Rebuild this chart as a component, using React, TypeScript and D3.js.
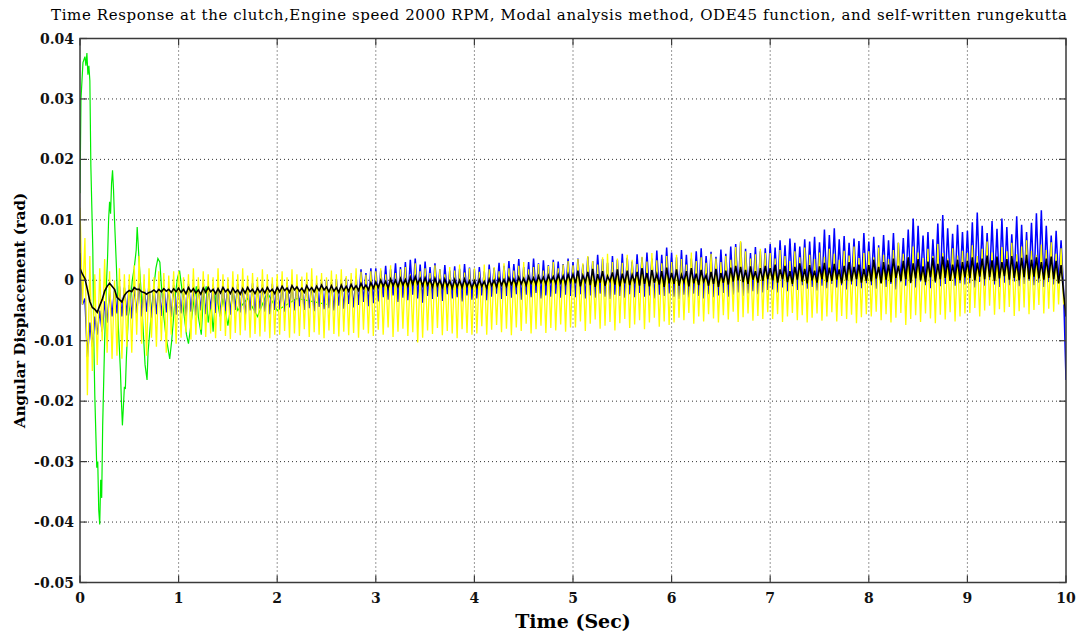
import React from 'react';
import * as d3 from 'd3';

const W = 1077;
const H = 635;
const M = { left: 80, top: 38.5, right: 1066, bottom: 582.5 };

const titleText = 'Time Response at the clutch,Engine speed 2000 RPM, Modal analysis method, ODE45 function, and self-written rungekutta';
const xLabel = 'Time (Sec)';
const yLabel = 'Angular Displacement (rad)';

const xTicks = [0, 1, 2, 3, 4, 5, 6, 7, 8, 9, 10];
const yTicks = [-0.05, -0.04, -0.03, -0.02, -0.01, 0, 0.01, 0.02, 0.03, 0.04];
const yTickLabels = ['-0.05', '-0.04', '-0.03', '-0.02', '-0.01', '0', '0.01', '0.02', '0.03', '0.04'];

// per-cycle samples (mrad): peak at t = i*0.05 s, trough at t = i*0.05 + 0.025 s
const STEP = 0.05;

const yellowHi = [
  12, 7, 4, 1, 2, 3.5, 1.5, 0, 2, 1, 1, 2.5, 4, 1, 2, 0.5, 1.5, 1.2, 0.8, 1.5,
  1.5, 0.5, 1, 2, 0.5, 1.5, 1, 0.5, 2, 1, 0.5, 1.5, 1, 2, 0.8, 1.2, 0.5, 1.8, 1, 0.5,
  1, 1.5, 0.5, 1.8, 1, 0.6, 1.3, 2, 0.8, 1.2, 0.5, 1.6, 1, 1.8, 0.7, 1.2, 2, 1.4, 0.9, 1.5,
  1.5, 2, 1, 2.5, 1.2, 1.8, 2.2, 1, 2.8, 1.5, 2, 1.2, 2.5, 1.8, 1, 2.2, 1.6, 2.6, 1.3, 2,
  2, 1.4, 2.6, 1.8, 2.2, 1.5, 2.8, 2, 1.6, 2.4, 3, 1.8, 2.2, 2.7, 1.6, 2.4, 3, 2, 2.6, 3.2,
  2.5, 3.5, 2.8, 4, 3.2, 2.6, 3.8, 4.4, 3, 3.6, 2.9, 4.2, 3.4, 2.7, 3.9, 3.1, 4.5, 3.3, 2.8, 4,
  3, 4.2, 3.5, 2.6, 4.6, 3.2, 3.8, 2.9, 4.4, 3.6, 3, 4, 3.4, 5.5, 6.5, 4.8, 3.6, 4.3, 5.2, 4.5,
  4.5, 3.6, 5, 4, 3.2, 4.8, 3.8, 5.4, 4.2, 3.5, 4.6, 3.9, 5.2, 4.4, 3.4, 4.9, 4.1, 5.6, 3.7, 4.5,
  4.8, 3.8, 5.4, 4.2, 3.5, 5, 6.2, 4.4, 3.9, 5.6, 4.6, 3.7, 5.2, 4, 6, 4.5, 3.6, 5.3, 4.1, 4.9,
  4.5, 5.8, 4, 5.2, 6.4, 4.6, 3.9, 5.5, 4.8, 6.2, 4.3, 5.6, 6.6, 4.9, 4.2, 5.9, 5, 6.3, 4.4, 5.3,
];
const yellowLo = [
  -4, -19, -15, -14, -10, -12, -13, -12.5, -13, -11, -12, -9, -10.5, -12.5, -9.5, -11, -10, -12, -9, -10.5,
  -9.5, -8.6, -9.8, -9, -8.2, -9.4, -8.8, -9.6, -8.4, -9.2, -9.7, -8.7, -9.1, -8.3, -9.5, -8.9, -9.3, -8.5, -9.6, -9,
  -9, -8.4, -9.5, -8.8, -9.2, -8.1, -9.4, -8.6, -9, -9.6, -8.3, -8.9, -9.3, -8.5, -9.1, -8.7, -9.5, -8.2, -8.8, -9.2,
  -8.2, -9, -7.8, -9.4, -8.5, -8, -9.2, -8.6, -10.3, -9.5, -8.3, -8.9, -7.9, -9.1, -8.4, -8.8, -9.6, -8.1, -8.7, -9,
  -8.8, -7.6, -9, -8.2, -7.4, -8.6, -8, -9.1, -7.8, -8.4, -7.2, -8.8, -8.1, -7.5, -8.7, -7.9, -8.3, -7.3, -8.5, -7.8,
  -7.8, -6.8, -8.4, -7.2, -6.5, -8, -7.5, -6.9, -8.3, -7.1, -6.4, -7.9, -7.3, -6.6, -8.1, -7, -6.2, -7.7, -6.8, -7.4,
  -7, -6.2, -6.6, -5.4, -7.2, -6, -6.8, -5.6, -6.3, -7, -5.8, -6.5, -5.2, -6.9, -6.1, -5.5, -6.7, -5.9, -6.4, -5.3,
  -6.4, -5.6, -6.9, -6, -5.4, -6.6, -5.8, -7, -6.2, -5.5, -6.7, -6, -5.3, -6.8, -5.9, -6.4, -5.7, -7.1, -6.1, -5.6,
  -6, -5.2, -6.6, -5.6, -7, -6.2, -5.4, -7.4, -6.4, -5.8, -6.9, -5.5, -6.3, -7.1, -5.7, -6.5, -5.3, -6.8, -6, -5.5,
  -5.4, -4.6, -6, -5, -4.2, -5.7, -4.8, -5.3, -4.4, -5.9, -5.1, -4.5, -5.6, -4.9, -4.1, -5.5, -4.7, -5.2, -4, -3.8,
];
const yellowEnd = -4.5;

const blueHi = [
  4.5, -3, -7, -6, -5, -3.5, -2, -1.5, -1, -1.2, -0.8, -1, -0.5, -1, -0.7, -1.2, -0.6, -0.9, -1.1, -0.8,
  -0.8, -1.2, -0.6, -1, -0.9, -0.5, -1.1, -0.7, -1, -0.4, -0.9, -1.2, -0.6, -0.8, -1, -0.5, -0.9, -0.7, -1.1, -0.6,
  -0.6, -0.9, -0.4, -0.8, -0.5, -1, -0.3, -0.7, -0.5, -0.2, 0, -0.3, 0.2, -0.1, 0.4, 0.1, 0.6, 1.8, 1.2, 2,
  2, 1.6, 2.4, 1.8, 2.8, 2.2, 3, 3.4, 3.6, 2.6, 3.1, 2.2, 2.8, 1.8, 2.5, 1.6, 2.3, 1.9, 2.7, 2.1,
  1.8, 2.2, 1.5, 2.6, 2, 2.9, 2.4, 3.2, 2.7, 3.5, 2.2, 3, 3.6, 2.8, 3.3, 2.5, 3.4, 3.1, 2.7, 3.6,
  3, 3.6, 2.6, 3.9, 3.2, 4.2, 3.5, 2.9, 4, 3.4, 4.4, 3.7, 3.1, 4.3, 3.8, 4.6, 3.6, 4.9, 4.2, 5.4,
  4.6, 3.8, 5, 4.2, 3.6, 4.8, 5.3, 4, 4.7, 3.9, 5.1, 4.4, 5.6, 6, 6.3, 5.2, 4.5, 5.5, 4.8, 5.3,
  6, 5.4, 6.6, 5.8, 6.9, 6.2, 5.6, 6.8, 6.4, 7.2, 6.3, 8.4, 7.5, 8.6, 6.8, 7.3, 6.2, 6.9, 6.5, 7.8,
  6.4, 7.2, 5.8, 7.5, 6.6, 7.8, 6.2, 7, 8.4, 10.2, 9, 7.4, 8, 6.8, 9.4, 10.8, 8.6, 7.7, 9.2, 8,
  8.2, 9.6, 11.2, 9, 7.8, 9.8, 8.5, 10.2, 8.8, 7.6, 10.6, 9.2, 8, 9.5, 11.1, 11.6, 9, 7.4, 8.2, 6.6,
];
const blueLo = [
  -4, -12.7, -11, -9, -8.5, -7, -6, -5.5, -6, -5.8, -6.3, -5.5, -6, -5.2, -6.2, -5.6, -5.9, -5.3, -6.1, -5.7,
  -5.5, -6, -5.2, -5.8, -5, -5.6, -4.8, -5.4, -5.9, -5.1, -5.7, -4.9, -5.3, -5.8, -5, -5.5, -4.7, -5.2, -5.6, -4.9,
  -4.8, -5.2, -4.5, -5, -4.3, -4.9, -4.6, -5.1, -4.4, -4.8, -4.6, -5, -4.2, -4.7, -3.9, -4.5, -4.1, -3.6, -4.3, -3.8,
  -3.5, -2.8, -3.2, -2.5, -3.6, -2.9, -3.3, -2.4, -3, -3.7, -2.6, -3.1, -2.7, -3.4, -2.3, -3, -2.8, -3.5, -2.5, -3.2,
  -3, -2.5, -3.3, -2.7, -2.2, -3.1, -2.6, -2.9, -2.3, -3.2, -2.4, -2.8, -2.1, -3, -2.5, -2.7, -2.2, -2.9, -2.4, -2.6,
  -2.8, -2.3, -3, -2.5, -2.9, -2.2, -2.7, -3.1, -2.4, -2.6, -2.9, -2.3, -2.8, -2.1, -2.7, -2.5, -3, -2.4, -2.6, -2.2,
  -2.7, -3.1, -2.4, -2.9, -2.2, -2.6, -3, -2.3, -2.8, -2.5, -2.1, -2.7, -2.4, -2, -2.6, -2.2, -1.8, -2.3, -2, -1.6,
  -1.5, -2, -1.2, -1.8, -1, -1.6, -0.8, -1.4, -1.1, -1.7, -0.9, -1.3, -0.6, -1.2, -0.8, -1.5, -0.7, -1, -1.3, -0.5,
  -0.8, -1.4, -0.4, -1.1, -0.6, -1.5, -0.3, -0.9, -0.5, -1.2, -0.2, -0.8, -1.3, -0.4, -1, -0.6, -0.1, -0.9, -0.5, -0.7,
  -0.5, -1.2, -0.3, -0.9, 0, -0.7, -1.1, -0.4, -0.8, -0.2, -1, -0.6, -0.1, -0.8, -0.4, -1.1, -0.3, -0.7, -0.5, -1.5,
];
const blueEnd = -16.5;

const blackHi = [
  2, 0.3, -3.5, -4.8, -4.2, -1.8, -0.5, -1.5, -3.2, -2.5, -1.7, -1.2, -1.5, -2, -2, -1.6, -1.5, -1.4, -1.5, -1.4,
  -1.3, -1.5, -1.2, -1.4, -1.6, -1.3, -1.2, -1.5, -1.4, -1.2, -1.5, -1.3, -1.6, -1.4, -1.2, -1.5, -1.3, -1.4, -1.2, -1.5,
  -1.2, -1, -1.3, -0.9, -1.1, -1.3, -0.9, -1.2, -1, -0.8, -1.1, -0.9, -1.2, -0.8, -1, -0.7, -0.9, -0.5, -0.8, -0.4,
  -0.3, 0, -0.2, 0.2, 0, 0.3, 0.1, 0.5, 0.6, 0.3, 0.4, 0.1, 0.3, 0, 0.2, -0.1, 0.1, 0, 0.2, -0.1,
  -0.1, 0.1, -0.2, 0.2, 0, 0.3, 0.1, 0.4, 0.2, 0.5, 0.3, 0.6, 0.4, 0.7, 0.5, 0.8, 0.6, 0.9, 0.7, 1,
  1, 1.6, 0.8, 1.4, 1.9, 1, 1.5, 0.7, 1.3, 1.8, 1.1, 1.6, 0.9, 1.4, 2, 1.2, 1.7, 1, 1.5, 2.1,
  1.2, 1.8, 0.9, 1.5, 2, 1.1, 1.7, 0.8, 1.4, 1.9, 1.2, 1.6, 2.1, 2.4, 2.2, 1.7, 2.3, 1.5, 2, 2.4,
  2, 2.6, 1.8, 2.4, 1.5, 2.2, 2.8, 1.9, 2.5, 1.6, 2.3, 2.9, 2.1, 2.7, 1.8, 2.4, 3, 2.2, 2.6, 1.9,
  2.5, 3.4, 2.2, 3, 2.6, 3.6, 2.4, 3.2, 3.8, 2.8, 3.5, 2.3, 3.1, 3.7, 2.7, 3.9, 3.3, 2.6, 3.4, 3,
  3.2, 3.8, 2.9, 3.6, 4.1, 3.3, 3.9, 3, 3.5, 4, 3.1, 3.7, 4.2, 3.4, 3.8, 3, 3.6, 3.9, 3.2, 2.5,
];
const blackLo = [
  1, -1.5, -4.5, -5.3, -3.2, -1, -1, -2.8, -3.6, -2, -1.9, -1.5, -1.9, -2.3, -1.9, -2, -1.9, -1.8, -2, -1.9,
  -2, -2.2, -1.9, -2.1, -2.3, -2, -1.9, -2.2, -2.1, -1.9, -2.2, -2, -2.3, -2.1, -1.9, -2.2, -2, -2.1, -1.9, -2.2,
  -1.9, -1.7, -2, -1.6, -1.8, -2, -1.7, -1.9, -1.7, -1.6, -1.9, -1.8, -2, -1.7, -1.8, -1.5, -1.7, -1.4, -1.6, -1.3,
  -1.2, -1, -1.3, -0.9, -1.1, -0.8, -1, -0.7, -0.6, -0.9, -0.8, -1.1, -0.9, -1.2, -1, -1.3, -1.1, -1.2, -1, -1.3,
  -1.2, -1, -1.3, -0.9, -1.1, -0.8, -1, -0.7, -0.9, -0.6, -0.8, -0.5, -0.7, -0.4, -0.6, -0.3, -0.5, -0.4, -0.6, -0.3,
  -0.5, -1, -0.3, -0.8, -1.1, -0.4, -0.9, -0.2, -0.7, -1, -0.5, -0.8, -0.3, -0.9, -0.6, -1, -0.4, -0.7, -1.1, -0.5,
  -0.6, -0.9, -0.3, -1, -0.5, -0.8, -0.2, -0.9, -0.6, -1.1, -0.4, -0.7, -0.2, 0, -0.3, -0.6, 0.1, -0.4, -0.1, 0.2,
  0, -0.4, 0.2, -0.3, -0.6, 0.1, -0.2, -0.5, 0, -0.4, 0.2, -0.3, -0.1, 0.1, -0.5, 0, -0.2, 0.2, -0.4, -0.1,
  -0.2, 0.3, -0.5, 0.1, -0.3, 0.4, -0.1, 0.2, -0.4, 0.3, 0, -0.3, 0.5, -0.2, 0.2, 0.4, -0.1, 0.3, 0, 0.5,
  0.4, 0, 0.6, 0.2, 0.5, -0.1, 0.3, 0.7, 0.1, 0.4, 0, 0.5, 0.2, 0.6, 0.3, 0.1, 0.4, 0.2, -0.5, -2,
];
const blackEnd = -6;

// green: transient only (s, mrad)
const greenT = [
  0, 0.01, 0.03, 0.05, 0.06, 0.07, 0.08, 0.09, 0.1, 0.11, 0.13, 0.14, 0.15, 0.16, 0.17, 0.18, 0.19, 0.2, 0.21, 0.22,
  0.23, 0.25, 0.27, 0.28, 0.29, 0.3, 0.31, 0.32, 0.33, 0.34, 0.35, 0.37, 0.39, 0.41, 0.42, 0.43, 0.44, 0.45, 0.46, 0.47,
  0.49, 0.51, 0.53, 0.55, 0.57, 0.58, 0.59, 0.6, 0.62, 0.64, 0.66, 0.68, 0.69, 0.71, 0.73, 0.75, 0.77, 0.79, 0.81, 0.83,
  0.85, 0.87, 0.89, 0.91, 0.93, 0.95, 0.97, 0.99, 1.01, 1.03, 1.05, 1.08, 1.1, 1.12, 1.15, 1.18, 1.2, 1.23, 1.25, 1.28,
  1.3, 1.33, 1.35, 1.38, 1.42, 1.45, 1.5, 1.55, 1.6, 1.7, 1.8, 1.9, 2.0, 2.2, 2.5,
];
const greenV = [
  14.4, 30, 36, 37, 35.5, 37.6, 34, 35.5, 33, 19, 5, -10, -19, -25, -31, -30, -38, -40.4, -33, -36,
  -24, -10, 0, 4, 10, 13, 11, 16, 18.2, 15, 10, 2, -8, -15, -20, -24, -21, -17.6, -18, -13,
  -6, -4, 0, 2, 5, 8.8, 6, 3, -2, -8, -14, -16.5, -12, -8, -4, -1, 2, 3.6, 3, -2,
  -6, -9, -11, -13, -10, -6, -2, 0.5, 1.6, -1, -5, -9, -10.5, -8, -4, -1, -6, -9, -3, -1,
  -7, -4, -8.5, -2, -6, -3, -7.5, -2, -5, -3, -6, -2, -5, -3, -4,
];

function cyclePoints(hi: number[], lo: number[], end: number): [number, number][] {
  const pts: [number, number][] = [];
  hi.forEach((h, i) => {
    pts.push([i * STEP, h]);
    pts.push([i * STEP + STEP / 2, lo[i]]);
  });
  pts.push([10, end]);
  return pts;
}

const FONT = '"DejaVu Serif", serif';

export default function App() {
  const x = d3.scaleLinear().domain([0, 10]).range([M.left, M.right]);
  const y = d3.scaleLinear().domain([-0.05, 0.04]).range([M.bottom, M.top]);
  const line = d3
    .line<[number, number]>()
    .x((d) => x(d[0]))
    .y((d) => y(d[1] / 1000));

  const blue = cyclePoints(blueHi, blueLo, blueEnd);
  const yellow = cyclePoints(yellowHi, yellowLo, yellowEnd);
  const black = cyclePoints(blackHi, blackLo, blackEnd);
  const green: [number, number][] = greenT.map((t, i) => [t, greenV[i]]);

  const tick = 7;
  const axisColor = '#3a3a3a';

  return (
    <svg width={W} height={H} style={{ position: 'absolute', left: 0, top: 0, background: '#fff' }}>
      <defs>
        <clipPath id="plot">
          <rect x={M.left} y={M.top} width={M.right - M.left} height={M.bottom - M.top} />
        </clipPath>
      </defs>
      <rect x={0} y={0} width={W} height={H} fill="#fff" />
      {/* grid */}
      {xTicks.slice(1, -1).map((t) => (
        <line key={'gx' + t} x1={x(t)} x2={x(t)} y1={M.top} y2={M.bottom} stroke="#333" strokeWidth={1} strokeDasharray="1,3" />
      ))}
      {yTicks.slice(1, -1).map((t) => (
        <line key={'gy' + t} x1={M.left} x2={M.right} y1={y(t)} y2={y(t)} stroke="#333" strokeWidth={1} strokeDasharray="1,3" />
      ))}
      <g clipPath="url(#plot)" fill="none" strokeLinejoin="miter">
        <path d={line(green) || ''} stroke="#00ee00" strokeWidth={1.2} />
        <path d={line(blue) || ''} stroke="#0000ff" strokeWidth={1.5} />
        <path d={line(yellow) || ''} stroke="#ffff00" strokeWidth={1.3} />
        <path d={line(black) || ''} stroke="#000" strokeWidth={1.6} />
      </g>
      {/* box */}
      <rect x={M.left} y={M.top} width={M.right - M.left} height={M.bottom - M.top} fill="none" stroke={axisColor} strokeWidth={1.5} />
      {/* ticks */}
      {xTicks.map((t) => (
        <g key={'tx' + t}>
          <line x1={x(t)} x2={x(t)} y1={M.bottom} y2={M.bottom - tick} stroke={axisColor} strokeWidth={1.2} />
          <line x1={x(t)} x2={x(t)} y1={M.top} y2={M.top + tick} stroke={axisColor} strokeWidth={1.2} />
          <text x={x(t)} y={M.bottom + 20} textAnchor="middle" fontFamily={FONT} fontWeight="bold" fontSize={14} fill="#111">
            {t}
          </text>
        </g>
      ))}
      {yTicks.map((t, i) => (
        <g key={'ty' + t}>
          <line x1={M.left} x2={M.left + tick} y1={y(t)} y2={y(t)} stroke={axisColor} strokeWidth={1.2} />
          <line x1={M.right} x2={M.right - tick} y1={y(t)} y2={y(t)} stroke={axisColor} strokeWidth={1.2} />
          <text x={M.left - 6} y={y(t) + 5} textAnchor="end" fontFamily={FONT} fontWeight="bold" fontSize={14} fill="#111">
            {yTickLabels[i]}
          </text>
        </g>
      ))}
      <text x={559} y={20} textAnchor="middle" fontFamily={FONT} fontSize={15} textLength={1016} lengthAdjust="spacing" fill="#000">
        {titleText}
      </text>
      <text x={(M.left + M.right) / 2} y={628} textAnchor="middle" fontFamily={FONT} fontWeight="bold" fontSize={19} fill="#000">
        {xLabel}
      </text>
      <text
        transform={`translate(25, ${(M.top + M.bottom) / 2}) rotate(-90)`}
        textAnchor="middle"
        fontFamily={FONT}
        fontWeight="bold"
        fontSize={15}
        fill="#000"
      >
        {yLabel}
      </text>
    </svg>
  );
}
